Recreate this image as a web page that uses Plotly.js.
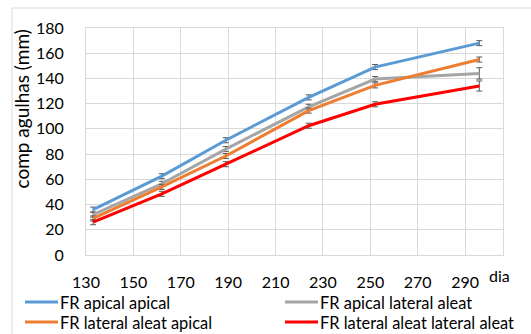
<!DOCTYPE html>
<html><head><meta charset="utf-8">
<script src="https://cdn.plot.ly/plotly-3.0.1.min.js"></script>
<style>html,body{margin:0;padding:0;background:#fff;}#chart{width:531px;height:334px;}</style>
</head><body><div id="chart"></div>
<script>
const days = [133, 162, 189, 224, 252, 296];
const names = ["FR apical apical", "FR apical lateral aleat", "FR lateral aleat apical", "FR lateral aleat lateral aleat"];
const apicalApical = [36, 62.5, 91, 125, 149, 168];
const apicalLateral = [32, 56.5, 84, 117.5, 139.5, 144];
const lateralApical = [29, 54, 78.5, 114.5, 134.5, 155];
const lateralLateral = [26, 48.5, 72, 102.5, 119.5, 134];
const errApicalApical = [2, 2, 2, 2, 2, 2];
const errApicalLateral = [2, 2, 2, 2, 2, 4.5];
const errLateralApical = [2, 2, 2, 2, 2, 2];
const errLateralLateral = [2, 2, 2, 2, 2, 4];
const colors = ["#5B9BD5", "#A5A5A5", "#ED7D31", "#FF0000"];
const xTicks = [130, 150, 170, 190, 210, 230, 250, 270, 290];
const yTicks = [0, 20, 40, 60, 80, 100, 120, 140, 160, 180];
const yTitle = "comp agulhas (mm)";
const xTitle = "dia";

const series = [apicalApical, apicalLateral, lateralApical, lateralLateral];
const errs = [errApicalApical, errApicalLateral, errLateralApical, errLateralLateral];
const traces = series.map((ys, i) => ({
  x: days, y: ys, name: names[i], type: "scatter", mode: "lines",
  line: {color: colors[i], width: 3},
  error_y: {type: "data", array: errs[i], visible: true, color: "#595959", thickness: 1, width: 3},
  showlegend: false
}));

const fontFam = "Lato, 'Open Sans', sans-serif";
const W = 531, H = 334, L = 86, R = 28, T = 28, B = 79;
const pw = W - L - R, ph = H - T - B;
const px = v => (v - L) / pw;
const py = v => (H - B - v) / ph;

const legendPos = [[25, 302], [285, 302], [25, 322], [285, 322]];
const legendShapes = legendPos.map((p, i) => ({
  type: "line", xref: "paper", yref: "paper",
  x0: px(p[0]), x1: px(p[0] + 33), y0: py(p[1]), y1: py(p[1]),
  line: {color: colors[i], width: 3}
}));
const legendTexts = legendPos.map((p, i) => ({
  text: names[i], xref: "paper", yref: "paper", x: px(p[0] + 33), y: py(p[1]),
  xanchor: "left", yanchor: "middle", showarrow: false,
  font: {family: fontFam, size: 16.4, color: "#000"}
}));

const layout = {
  width: W, height: H,
  margin: {l: L, r: R, t: T, b: B, pad: 0},
  paper_bgcolor: "#fff", plot_bgcolor: "#fff",
  font: {family: fontFam, size: 16, color: "#000"},
  showlegend: false,
  xaxis: {
    range: [130, 306], tickvals: xTicks, ticktext: xTicks.map(String),
    showgrid: true, gridcolor: "#D9D9D9", gridwidth: 1,
    showline: true, linecolor: "#D9D9D9", linewidth: 1, mirror: true,
    zeroline: false, ticks: "", ticklabelstandoff: 13, automargin: false,
    tickfont: {family: fontFam, size: 16, color: "#000"}, fixedrange: true
  },
  yaxis: {
    range: [0, 180], tickvals: yTicks, ticktext: yTicks.map(String),
    showgrid: true, gridcolor: "#D9D9D9", gridwidth: 1,
    showline: true, linecolor: "#D9D9D9", linewidth: 1, mirror: true,
    zeroline: false, ticks: "", ticklabelstandoff: 18, automargin: false,
    tickfont: {family: fontFam, size: 16, color: "#000"},
    fixedrange: true
  },
  annotations: [{
    text: xTitle, xref: "paper", yref: "paper", x: px(499), y: py(275),
    xanchor: "center", yanchor: "middle", showarrow: false,
    font: {family: fontFam, size: 16, color: "#000"}
  }, {
    text: yTitle, xref: "paper", yref: "paper", x: px(20.5), y: py(109),
    xanchor: "center", yanchor: "middle", showarrow: false, textangle: -90,
    font: {family: fontFam, size: 19, color: "#000"}
  }].concat(legendTexts),
  shapes: [{
    type: "rect", xref: "paper", yref: "paper",
    x0: px(12), x1: px(545), y0: py(350), y1: py(8),
    line: {color: "#D9D9D9", width: 1}, fillcolor: "rgba(0,0,0,0)", layer: "below"
  }].concat(legendShapes)
};

Plotly.newPlot("chart", traces, layout, {displayModeBar: false, staticPlot: true});
</script></body></html>
